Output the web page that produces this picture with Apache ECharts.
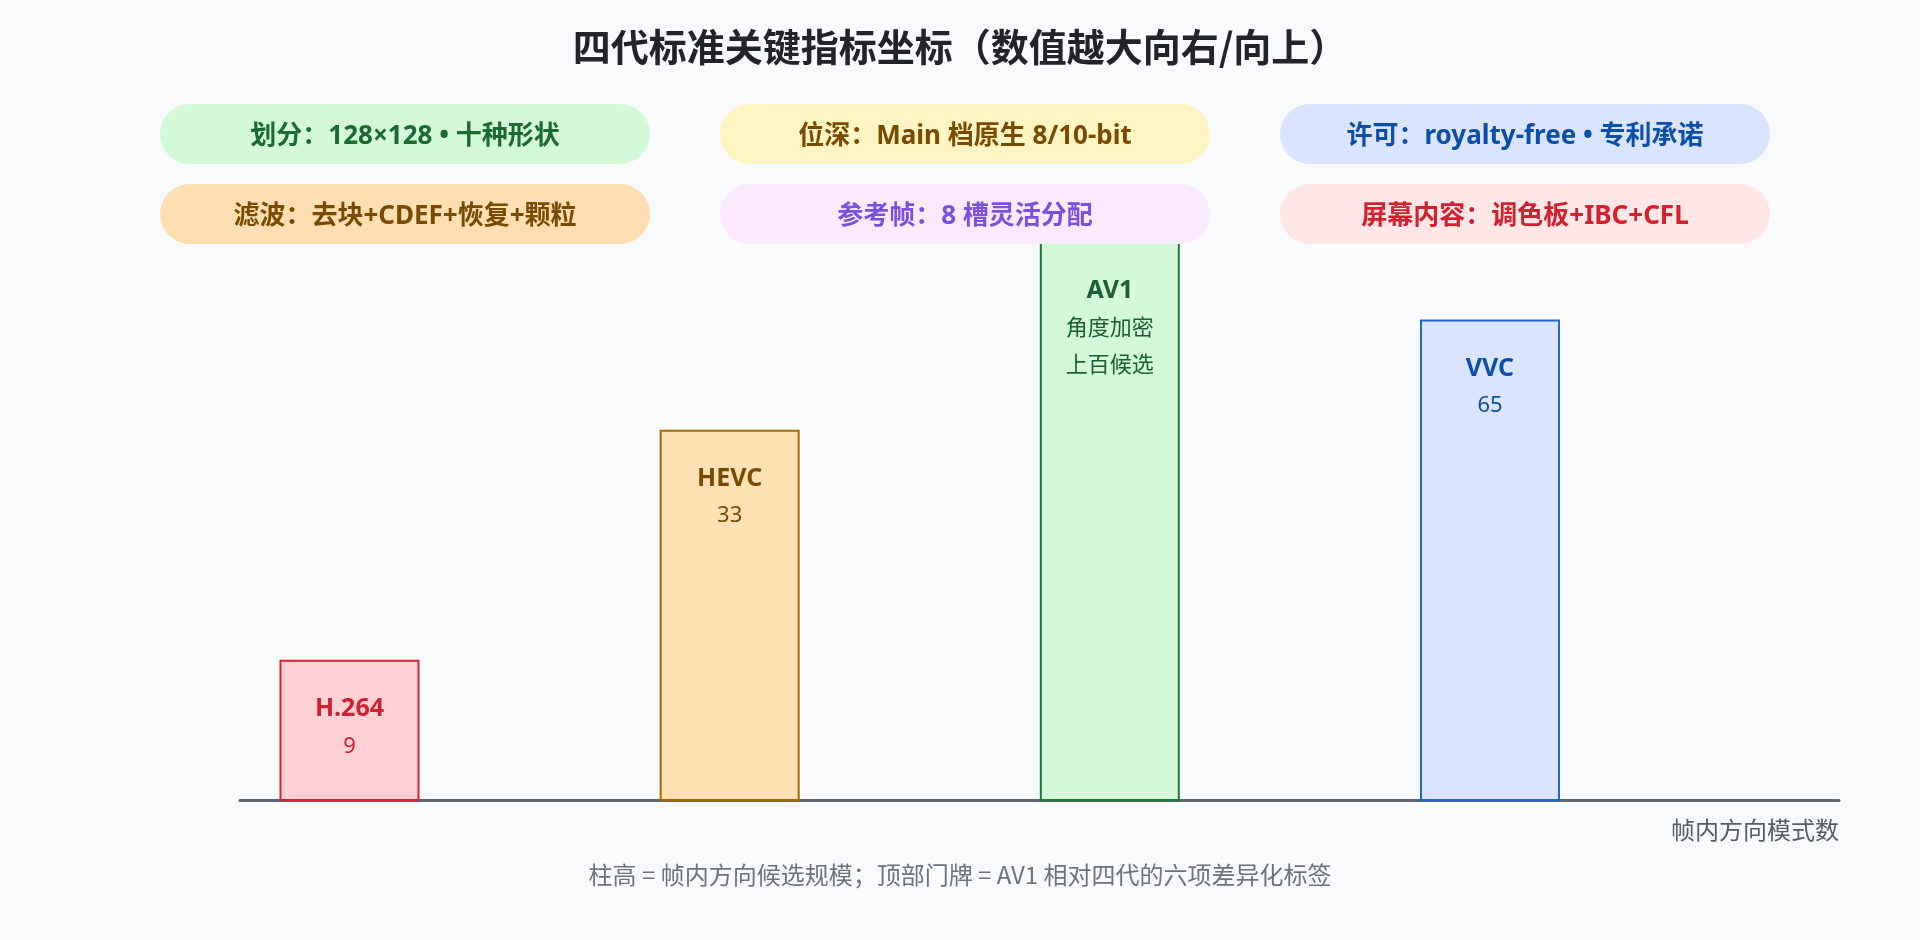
<!DOCTYPE html>
<html>
<head>
<meta charset="utf-8">
<script src="https://cdn.jsdelivr.net/npm/echarts@6/dist/echarts.min.js"></script>
<style>
html,body{margin:0;padding:0;background:#f8fafc;}
#chart{width:1920px;height:940px;}
</style>
</head>
<body>
<div id="chart"></div>
<script>
// ---- data ----
const titleText = '四代标准关键指标坐标（数值越大向右/向上）';
const categories = ['H.264', 'HEVC', 'AV1', 'VVC'];
const barValues = [9, 35, 106, 67];               // bar heights read on the (log) value scale
const valueLabels = ['9', '33', '角度加密\n上百候选', '65'];
const xAxisName = '帧内方向模式数';
const badgeTexts = [
  '划分：128×128 • 十种形状',
  '位深：Main 档原生 8/10-bit',
  '许可：royalty-free • 专利承诺',
  '滤波：去块+CDEF+恢复+颗粒',
  '参考帧：8 槽灵活分配',
  '屏幕内容：调色板+IBC+CFL'
];
const footnote = '柱高 = 帧内方向候选规模；顶部门牌 = AV1 相对四代的六项差异化标签';

// ---- styles ----
const FONT = '"Noto Sans CJK SC", "Noto Sans", sans-serif';
const FONT_MIX = '"Noto Sans", "Noto Sans CJK SC", sans-serif';
const barStyles = [
  {fill: '#ffd1d4', border: '#d92334', text: '#d1202f'},
  {fill: '#ffe1b4', border: '#a46a06', text: '#7a4a00'},
  {fill: '#d3f9d8', border: '#1f7a36', text: '#1b6030'},
  {fill: '#dbe4ff', border: '#1c68d6', text: '#0b4fa8'}
];
const badgeStyles = [
  {fill: '#d3f9d8', text: '#1b6a30'},
  {fill: '#fff5c2', text: '#7a4a00'},
  {fill: '#dbe4ff', text: '#0b4fa8'},
  {fill: '#ffdfb2', text: '#7a4a00'},
  {fill: '#fbeafe', text: '#7b4fe0'},
  {fill: '#ffe7e7', text: '#d4202f'}
];

const chart = echarts.init(document.getElementById('chart'), null, {renderer: 'canvas'});

const seriesData = categories.map((c, i) => {
  const s = barStyles[i];
  const lines = valueLabels[i].split('\n').map(t => '{v|' + t + '}').join('\n');
  return {
    name: c,
    value: [i, barValues[i]],
    itemStyle: {color: s.fill, borderColor: s.border, borderWidth: 2},
    label: {
      show: true,
      position: 'insideTop',
      distance: 31,
      formatter: '{n|' + c + '}\n' + lines,
      rich: {
        n: {fontSize: 25, fontWeight: 'bold', color: s.text, lineHeight: 37, fontFamily: FONT_MIX},
        v: {fontSize: 22, color: s.text, lineHeight: 37, fontFamily: FONT_MIX}
      }
    }
  };
});

const badgeGraphics = [];
badgeTexts.forEach((t, i) => {
  const col = i % 3, row = Math.floor(i / 3);
  const s = badgeStyles[i];
  badgeGraphics.push({
    type: 'group',
    left: 160 + col * 560,
    top: 104 + row * 80,
    z: 100,
    children: [
      {type: 'rect', shape: {x: 0, y: 0, width: 490, height: 60, r: 30}, style: {fill: s.fill}, z: 100},
      {type: 'text', x: 245, y: 33, z: 101,
       style: {text: t, fill: s.text, font: 'bold 26px ' + FONT_MIX, textAlign: 'center', textVerticalAlign: 'middle', align: 'center', verticalAlign: 'middle'}}
    ]
  });
});

const option = {
  backgroundColor: '#f8fafc',
  title: [
    {
      text: titleText, left: 'center', top: 23,
      textStyle: {fontSize: 38, fontWeight: 'bold', color: '#212529', fontFamily: FONT}
    },
    {
      text: footnote, left: 'center', top: 858,
      textStyle: {fontSize: 24, fontWeight: 'normal', color: '#6c737d', fontFamily: FONT}
    }
  ],
  grid: {left: 240, right: 81, top: 100, bottom: 140},
  xAxis: {
    type: 'value',
    min: -0.288, max: 3.918,
    name: xAxisName,
    nameLocation: 'end',
    nameGap: 0,
    nameTextStyle: {align: 'right', verticalAlign: 'top', padding: [18, 0, 0, 0], fontSize: 24, color: '#555c66', fontFamily: FONT},
    axisLine: {show: true, onZero: false, lineStyle: {color: '#5f6670', width: 3}},
    axisTick: {show: false},
    axisLabel: {show: false},
    splitLine: {show: false}
  },
  yAxis: {
    type: 'log',
    min: 3.936, max: 244.8,
    show: false,
    splitLine: {show: false}
  },
  series: [{
    type: 'bar',
    barWidth: 140,
    clip: true,
    data: seriesData
  }],
  graphic: badgeGraphics
};
chart.setOption(option);
</script>
</body>
</html>
